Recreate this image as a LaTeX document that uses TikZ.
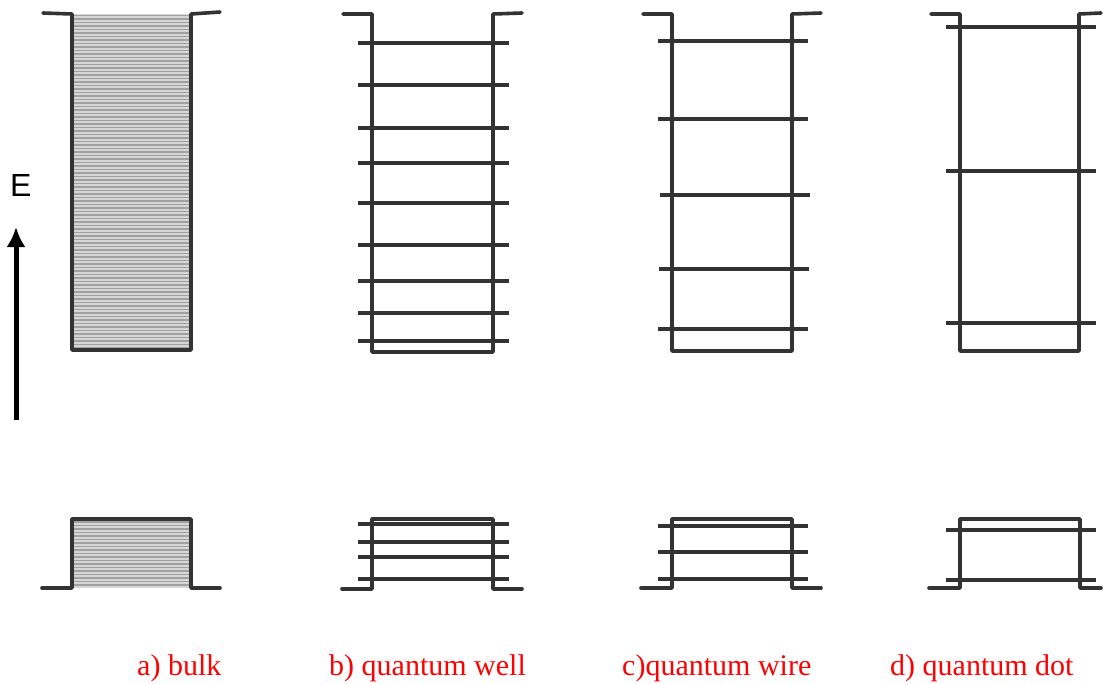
\documentclass[tikz,border=0pt]{standalone}
\usepackage{fontspec}
\setmainfont{Liberation Serif}
\newfontfamily\sansE{Liberation Sans}
\usetikzlibrary{arrows.meta}
\definecolor{wallc}{HTML}{333333}
\definecolor{stripec}{HTML}{A0A0A0}
\definecolor{fillc}{HTML}{D6D6D6}
\tikzset{
  wall/.style={draw=wallc, line width=3.6pt, line join=round, line cap=round},
  level/.style={draw=wallc, line width=3.6pt, line cap=butt},
  stripe/.style={draw=stripec, line width=1.2pt},
  caption/.style={text=red, font=\fontsize{30}{36}\selectfont, anchor=base west, inner sep=0pt},
}
\begin{document}
\begin{tikzpicture}[x=1pt, y=-1pt]
\useasboundingbox (0,0) rectangle (1103,683);
% ---------- a) bulk ----------
\fill[fillc] (72,14) rectangle (191,350);
\foreach \y in {15.5,19,...,349} \draw[stripe] (73,\y) -- (190,\y);
\fill[fillc] (72,519) rectangle (191,588);
\foreach \y in {522,525.5,...,587} \draw[stripe] (73,\y) -- (190,\y);
\draw[wall] (43,13) -- (72,14) -- (72,350) -- (191,350) -- (191,14) -- (220,12);
\draw[wall] (42,588) -- (72,588) -- (72,519) -- (191,519) -- (191,588) -- (220,588);
% ---------- b) quantum well ----------
\draw[wall] (343,14) -- (372,14) -- (372,352) -- (493,352) -- (493,14) -- (522,13);
\foreach \y in {43,85,128,163,203,245,281,313,341} \draw[level] (358,\y) -- (509,\y);
\draw[wall] (342,589) -- (372,589) -- (372,519) -- (493,519) -- (493,589) -- (522,589);
\foreach \y in {524,542,557,579} \draw[level] (358,\y) -- (509,\y);
% ---------- c) quantum wire ----------
\draw[wall] (643,14) -- (672,14) -- (672,351) -- (792,351) -- (792,14) -- (821,13);
\draw[level] (658,41) -- (808,41);
\draw[level] (658,119) -- (808,119);
\draw[level] (660,195) -- (810,195);
\draw[level] (659,269) -- (809,269);
\draw[level] (658,329) -- (808,329);
\draw[wall] (641,588) -- (672,588) -- (672,519) -- (792,519) -- (792,588) -- (821,588);
\foreach \y in {526,552,579} \draw[level] (658,\y) -- (808,\y);
% ---------- d) quantum dot ----------
\draw[wall] (931,14) -- (960,14) -- (960,351) -- (1079,351) -- (1079,14) -- (1101,13);
\foreach \y in {27,171,323} \draw[level] (946,\y) -- (1096,\y);
\draw[wall] (929,588) -- (960,588) -- (960,519) -- (1080,519) -- (1080,588) -- (1101,588);
\foreach \y in {530,580} \draw[level] (946,\y) -- (1096,\y);
% ---------- energy axis ----------
\coordinate (ebot) at (16,420);
\coordinate (etop) at (16,227);
\draw[line width=5pt, -{Latex[length=20pt,width=19pt]}] (ebot) -- (etop);
\node[anchor=base west, inner sep=0pt, font=\sansE\fontsize{32}{38}\selectfont] (elab) at (10,196) {E};
% ---------- captions ----------
\node[caption] (capa) at (137,675) {a) bulk};
\node[caption] (capb) at (329,675) {b) quantum well};
\node[caption] (capc) at (622,675) {c)quantum wire};
\node[caption] (capd) at (890,675) {d) quantum dot};
\end{tikzpicture}
\end{document}
